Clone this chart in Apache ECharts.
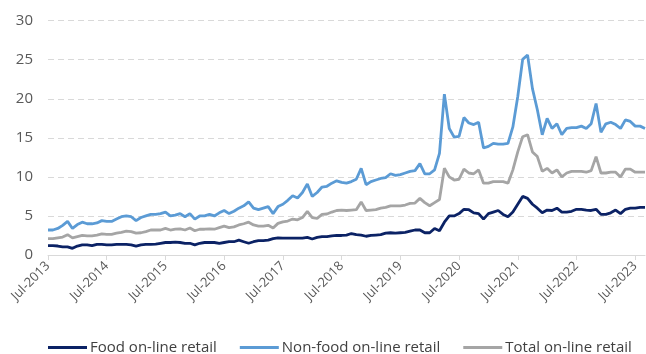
<!DOCTYPE html>
<html>
<head>
<meta charset="utf-8">
<script src="https://cdn.jsdelivr.net/npm/echarts@6/dist/echarts.min.js"></script>
<style>
html,body{margin:0;padding:0;background:#fff;}
#chart{width:646px;height:354px;}
</style>
</head>
<body>
<div id="chart"></div>
<script>
// Monthly observations, Jul-2013 .. Sep-2023
const monthNames = ['Jan','Feb','Mar','Apr','May','Jun','Jul','Aug','Sep','Oct','Nov','Dec'];
const startYear = 2013, startMonth = 6, nPoints = 123;
const categories = [];
for (let i = 0; i < nPoints; i++) {
  const m = (startMonth + i) % 12;
  const y = startYear + Math.floor((startMonth + i) / 12);
  categories.push(monthNames[m] + '-' + y);
}

const seriesNames = ['Food on-line retail', 'Non-food on-line retail', 'Total on-line retail'];

const food = [
  1.2,1.2,1.15,1.05,1.05,0.85,1.15,1.3,1.3,1.2,1.35,1.35,
  1.3,1.3,1.35,1.35,1.35,1.3,1.15,1.3,1.35,1.35,1.4,1.5,
  1.6,1.6,1.65,1.6,1.5,1.5,1.3,1.5,1.6,1.6,1.6,1.5,
  1.6,1.7,1.7,1.9,1.7,1.5,1.7,1.85,1.85,1.9,2.1,2.2,
  2.15,2.15,2.15,2.15,2.15,2.25,2.05,2.25,2.35,2.35,2.45,2.5,
  2.5,2.55,2.75,2.6,2.55,2.4,2.5,2.55,2.6,2.8,2.85,2.8,
  2.85,2.9,3.05,3.2,3.2,2.85,2.85,3.4,3.1,4.2,5.0,5.0,
  5.3,5.85,5.8,5.4,5.3,4.6,5.3,5.5,5.7,5.2,4.9,5.5,
  6.5,7.5,7.25,6.5,6.0,5.4,5.75,5.7,6.0,5.5,5.5,5.6,
  5.85,5.85,5.75,5.7,5.85,5.2,5.2,5.4,5.75,5.3,5.85,6.0,
  6.0,6.1,6.1
];

const nonFood = [
  3.2,3.2,3.4,3.8,4.3,3.4,3.9,4.2,4.0,4.0,4.1,4.4,
  4.3,4.3,4.6,4.9,5.0,4.9,4.4,4.8,5.0,5.2,5.2,5.3,
  5.5,5.0,5.1,5.3,4.9,5.3,4.6,5.0,5.0,5.2,5.0,5.4,
  5.7,5.3,5.6,6.0,6.3,6.8,6.0,5.8,6.0,6.2,5.3,6.2,
  6.5,7.0,7.6,7.3,8.0,9.1,7.5,8.0,8.7,8.8,9.2,9.5,
  9.3,9.2,9.4,9.7,11.1,9.0,9.4,9.6,9.8,9.9,10.4,10.2,
  10.3,10.5,10.7,10.8,11.7,10.4,10.4,10.9,13.0,20.6,16.2,15.1,
  15.2,17.6,16.9,16.7,17.0,13.7,13.9,14.3,14.2,14.2,14.3,16.4,
  20.3,25.05,25.6,21.3,18.6,15.4,17.5,16.2,16.8,15.4,16.2,16.3,
  16.3,16.5,16.2,16.8,19.4,15.7,16.8,17.0,16.7,16.2,17.3,17.1,
  16.5,16.5,16.2
];

const total = [
  2.1,2.1,2.2,2.3,2.6,2.2,2.35,2.5,2.45,2.45,2.55,2.7,
  2.65,2.65,2.8,2.9,3.05,3.0,2.8,2.85,3.0,3.2,3.2,3.2,
  3.4,3.2,3.3,3.35,3.2,3.45,3.1,3.3,3.3,3.35,3.3,3.5,
  3.7,3.5,3.6,3.85,4.0,4.2,3.85,3.7,3.7,3.8,3.45,4.05,
  4.25,4.35,4.6,4.5,4.8,5.6,4.8,4.7,5.2,5.25,5.5,5.7,
  5.75,5.7,5.75,5.8,6.8,5.7,5.75,5.8,6.0,6.1,6.3,6.3,
  6.3,6.4,6.6,6.65,7.25,6.7,6.3,6.7,7.1,11.1,10.0,9.6,
  9.7,11.0,10.5,10.4,10.9,9.2,9.2,9.4,9.4,9.4,9.2,10.9,
  13.2,15.15,15.4,13.2,12.6,10.7,11.1,10.5,10.9,10.0,10.5,10.7,
  10.7,10.7,10.6,10.8,12.6,10.5,10.5,10.6,10.6,10.0,11.0,11.0,
  10.6,10.6,10.6
];

const yTicks = [0, 5, 10, 15, 20, 25, 30];
const colors = ['#0B2265', '#5B9BD5', '#A5A5A5'];

const chart = echarts.init(document.getElementById('chart'), null, {renderer: 'canvas'});
const font = '"Open Sans", "Noto Sans", sans-serif';

chart.setOption({
  animation: false,
  backgroundColor: '#ffffff',
  color: colors,
  grid: {left: 48, right: 1, top: 20.7, bottom: 99, containLabel: false},
  legend: {
    bottom: -6,
    left: 43,
    itemWidth: 39,
    itemHeight: 3,
    itemGap: 23,
    icon: 'rect',
    textStyle: {fontFamily: font, fontSize: 15, color: '#404040', padding: [0, 0, 0, -2]},
    data: seriesNames
  },
  xAxis: {
    type: 'category',
    data: categories,
    boundaryGap: false,
    axisLine: {lineStyle: {color: '#D9D9D9', width: 1}},
    axisTick: {show: true, interval: 11, length: 5, lineStyle: {color: '#D9D9D9'}},
    axisLabel: {interval: 11, rotate: 45, margin: 9, fontFamily: font, fontSize: 13, color: '#595959'},
    splitLine: {show: false}
  },
  yAxis: {
    type: 'value',
    min: yTicks[0],
    max: yTicks[yTicks.length - 1],
    interval: 5,
    axisLine: {show: false},
    axisTick: {show: false},
    axisLabel: {margin: 15, fontFamily: font, fontSize: 15, color: '#595959'},
    splitLine: {lineStyle: {color: '#D9D9D9', type: [6, 4], width: 1}}
  },
  series: [
    {name: seriesNames[0], type: 'line', data: food, showSymbol: false, lineStyle: {width: 2.8}, z: 4},
    {name: seriesNames[1], type: 'line', data: nonFood, showSymbol: false, lineStyle: {width: 2.8}, z: 3},
    {name: seriesNames[2], type: 'line', data: total, showSymbol: false, lineStyle: {width: 2.8}, z: 2}
  ]
});
</script>
</body>
</html>
